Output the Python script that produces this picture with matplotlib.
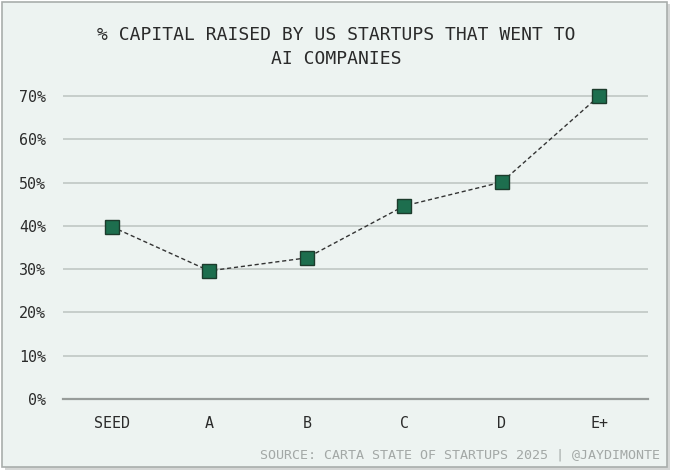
import matplotlib
matplotlib.use("Agg")
from matplotlib import pyplot as plt
from matplotlib.patches import Rectangle

# Data
stages = ["SEED", "A", "B", "C", "D", "E+"]
pct_ai = [39.8, 29.6, 32.6, 44.6, 50.1, 70.0]
y_ticks = [0, 10, 20, 30, 40, 50, 60, 70]

title = "% CAPITAL RAISED BY US STARTUPS THAT WENT TO\nAI COMPANIES"
source = "SOURCE: CARTA STATE OF STARTUPS 2025 | @JAYDIMONTE"

bg = "#edf3f1"
mono = "DejaVu Sans Mono"

fig = plt.figure(figsize=(6.8, 4.75), dpi=100)
fig.patch.set_facecolor("white")

# card with a soft shadow
fig.patches.append(Rectangle((5 / 680, 1 - 470 / 475), 665 / 680, 466 / 475,
                             transform=fig.transFigure, facecolor="#d4d6d5",
                             edgecolor="none", zorder=-3))
fig.patches.append(Rectangle((2 / 680, 1 - 467 / 475), 665 / 680, 465 / 475,
                             transform=fig.transFigure, facecolor=bg,
                             edgecolor="#a9aeac", linewidth=1.2, zorder=-2))

ax = fig.add_axes([63 / 680, 1 - 399 / 475, 585 / 680, 313 / 475])
ax.set_facecolor("none")
x = list(range(len(stages)))
ax.plot(x, pct_ai, color="#333333", linestyle=(0, (3, 2)), linewidth=1.0,
        marker="s", markersize=10, markerfacecolor="#1d6e4e",
        markeredgecolor="#1c3b2c", markeredgewidth=1.0, zorder=3, clip_on=False)

ax.set_xlim(-0.5, 5.5)
ax.set_ylim(0, 72.3)
ax.set_xticks(x)
ax.set_xticklabels(stages)
ax.set_yticks(y_ticks)
ax.set_yticklabels([f"{v}%" for v in y_ticks])
ax.grid(axis="y", color="#bcc3c0", linewidth=1.1)
ax.set_axisbelow(True)
for side in ["top", "right", "left"]:
    ax.spines[side].set_visible(False)
ax.spines["bottom"].set_color("#979c9a")
ax.spines["bottom"].set_linewidth(1.6)
ax.tick_params(axis="both", length=0, labelsize=10.8, labelcolor="#2b2b2b")
ax.tick_params(axis="x", pad=12)
ax.tick_params(axis="y", pad=12)
for lbl in ax.get_xticklabels() + ax.get_yticklabels():
    lbl.set_family(mono)

fig.text(336 / 680, 1 - 47 / 475, title, ha="center", va="center",
         fontsize=13, family=mono, color="#2a2a2a", linespacing=1.4)
fig.text(660 / 680, 1 - 455 / 475, source, ha="right", va="center",
         fontsize=9.6, family=mono, color="#a3a8a6")

fig.savefig("out.png", dpi=100, facecolor=fig.get_facecolor())
